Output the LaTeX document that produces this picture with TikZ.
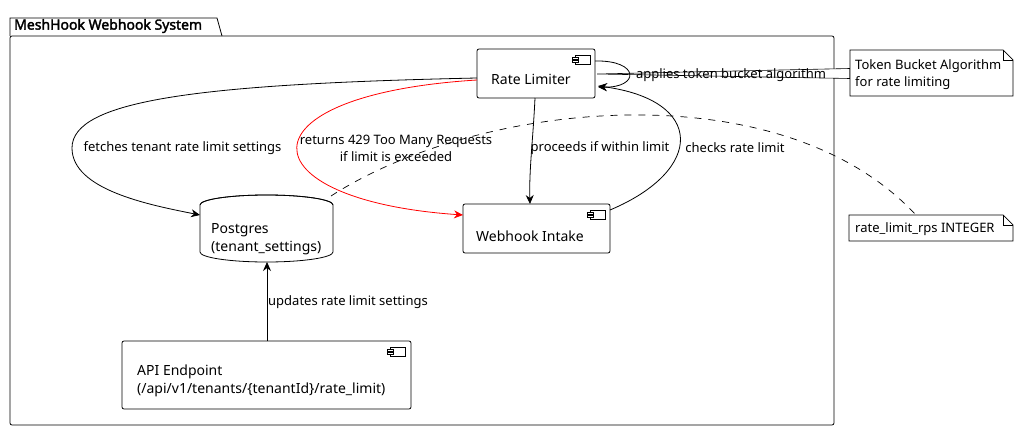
\documentclass[tikz,border=0pt]{standalone}
\usepackage{fontspec}
\setmainfont{Noto Sans}
\newfontfamily\titlefont{Noto Sans}[FakeBold=2.2]
\usetikzlibrary{arrows.meta}
\begin{document}
\begin{tikzpicture}[x=1pt,y=-1pt,
  comp/.style={draw,rounded corners=2pt,line width=0.8pt,fill=white},
  lbl/.style={font=\fontsize{13}{17}\selectfont,inner sep=0pt,align=center},
  ctext/.style={font=\fontsize{14}{18}\selectfont,inner sep=0pt,align=left},
  edge/.style={line width=0.8pt,-{Stealth[length=9pt,width=8pt,inset=3pt]}},
  notebox/.style={draw,line width=0.7pt,fill=white}]
\useasboundingbox (0,0) rectangle (1023,431);
% package
\draw[line width=0.8pt] (10,36) -- (10,18) -- (217,18) -- (222,36);
\draw[line width=0.8pt,rounded corners=2pt] (10,36) rectangle (834,425);
\node[anchor=west,inner sep=0pt,font=\fontsize{14}{17}\titlefont] (title) at (14,26) {MeshHook Webhook System};
% token note connector
\draw[line width=0.6pt,fill=white] (597,74) -- (850,68.5) -- (850,78.5) -- cycle;
% rate limiter
\draw[comp] (477,49) rectangle (595,98);
\node[ctext] (rl) at (531,79) {Rate Limiter};
\coordinate (rlw) at (477,80);
% webhook intake
\draw[comp] (463,204) rectangle (610,253);
\node[ctext] (wi) at (530,236) {Webhook Intake};
% API endpoint
\draw[comp] (122,341) rectangle (411,409);
\node[ctext,anchor=west] (api) at (137,381) {API Endpoint\\(/api/v1/tenants/\{tenantId\}/rate\_limit)};
% component icons
\foreach \x/\y in {590/55, 605/210, 405/347}{
  \draw[line width=0.6pt,fill=white] (\x-15,\y) rectangle (\x,\y+9);
  \draw[line width=0.6pt,fill=white] (\x-18,\y+2) rectangle (\x-12,\y+4);
  \draw[line width=0.6pt,fill=white] (\x-18,\y+5) rectangle (\x-12,\y+7);
}
% postgres cylinder
\draw[line width=0.8pt,fill=white] (200,205) -- (200,252) arc[start angle=180,end angle=360,x radius=66.5,y radius=-10] -- (333,205) arc[start angle=0,end angle=180,x radius=66.5,y radius=-10] -- cycle;
\draw[line width=0.8pt] (200,205) arc[start angle=180,end angle=360,x radius=66.5,y radius=10];
\node[ctext,anchor=west] (pg) at (211,239) {Postgres\\(tenant\_settings)};
% notes
\draw[notebox] (850,50) -- (1003,50) -- (1013,60) -- (1013,96) -- (850,96) -- cycle;
\draw[line width=0.7pt] (1003,50) -- (1003,60) -- (1013,60);
\node[lbl,align=left,anchor=west] (n1) at (855,74.5) {Token Bucket Algorithm\\for rate limiting};
\draw[notebox] (849,215) -- (1003,215) -- (1013,225) -- (1013,241) -- (849,241) -- cycle;
\draw[line width=0.7pt] (1003,215) -- (1003,225) -- (1013,225);
\node[lbl,anchor=west] (n2) at (855,229) {rate\_limit\_rps INTEGER};
% dashed note connector
\draw[line width=0.7pt,dash pattern=on 7pt off 7pt] (331,196) .. controls (480,100) and (780,70) .. (915,214);
% edges
\draw[edge] (477,78) .. controls (200,84) and (72,100) .. (72,148) .. controls (72,190) and (150,205) .. (200,215);
\draw[edge,red] (rlw) .. controls (235,95) and (245,200) .. (463,215);
\draw[edge] (535,98) .. controls (533,140) and (529,170) .. (530,204);
\draw[edge] (610,210) .. controls (705,170) and (705,100) .. (598,86);
\draw[edge] (595,61) .. controls (640,60) and (640,88) .. (598,87);
\draw[edge] (267,341) -- (267,262);
% labels
\node[lbl] (l1) at (182.5,148) {fetches tenant rate limit settings};
\node[lbl] (l2) at (396,148) {returns 429 Too Many Requests\\if limit is exceeded};
\node[lbl] (l3) at (600,148) {proceeds if within limit};
\node[lbl] (l4) at (735,148) {checks rate limit};
\node[lbl] (l5) at (731,75) {applies token bucket algorithm};
\node[lbl] (l6) at (348,302) {updates rate limit settings};
\end{tikzpicture}
\end{document}
